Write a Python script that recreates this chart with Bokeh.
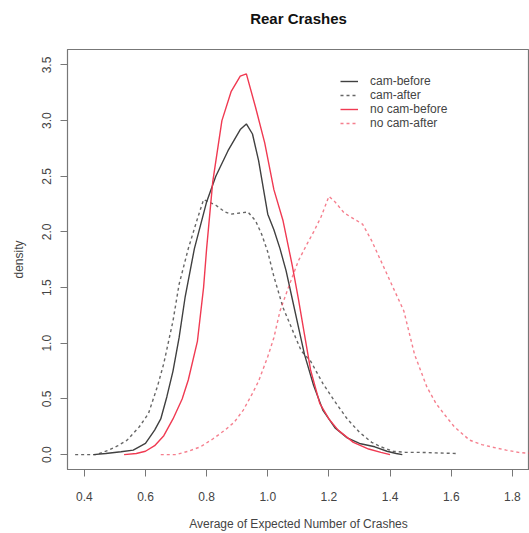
from bokeh.plotting import figure
from bokeh.models import Legend, LegendItem, FixedTicker, PrintfTickFormatter, Range1d, Title
from bokeh.embed import file_html
from bokeh.resources import INLINE

# ---- data ----
cam_before_x = [0.43, 0.47, 0.52, 0.56, 0.60, 0.63, 0.65, 0.67, 0.69, 0.71, 0.73, 0.76, 0.80, 0.83, 0.87, 0.91, 0.93, 0.95, 0.97, 0.99, 1.00, 1.02, 1.04, 1.06, 1.08, 1.10, 1.12, 1.15, 1.18, 1.22, 1.26, 1.30, 1.35, 1.39, 1.42, 1.44]
cam_before_y = [0.0, 0.01, 0.025, 0.04, 0.10, 0.22, 0.32, 0.52, 0.75, 1.05, 1.42, 1.85, 2.27, 2.50, 2.73, 2.92, 2.97, 2.88, 2.64, 2.32, 2.16, 2.02, 1.85, 1.65, 1.40, 1.15, 0.90, 0.62, 0.40, 0.24, 0.15, 0.10, 0.07, 0.03, 0.01, 0.0]

cam_after_x = [0.37, 0.44, 0.48, 0.51, 0.54, 0.58, 0.61, 0.64, 0.66, 0.69, 0.71, 0.74, 0.77, 0.79, 0.83, 0.86, 0.88, 0.91, 0.935, 0.96, 0.98, 1.00, 1.02, 1.05, 1.085, 1.11, 1.14, 1.18, 1.216, 1.26, 1.30, 1.34, 1.37, 1.41, 1.45, 1.50, 1.55, 1.615]
cam_after_y = [0.0, 0.0, 0.04, 0.08, 0.13, 0.25, 0.37, 0.62, 0.82, 1.20, 1.53, 1.85, 2.12, 2.29, 2.24, 2.18, 2.16, 2.17, 2.18, 2.10, 1.98, 1.82, 1.60, 1.32, 1.09, 0.93, 0.84, 0.64, 0.49, 0.32, 0.20, 0.11, 0.07, 0.03, 0.02, 0.02, 0.015, 0.01]

nocam_before_x = [0.53, 0.57, 0.60, 0.63, 0.66, 0.69, 0.72, 0.74, 0.77, 0.79, 0.80, 0.82, 0.85, 0.88, 0.91, 0.93, 0.96, 0.99, 1.02, 1.05, 1.08, 1.10, 1.12, 1.14, 1.17, 1.20, 1.23, 1.28, 1.33, 1.37, 1.40]
nocam_before_y = [0.0, 0.01, 0.03, 0.08, 0.17, 0.32, 0.50, 0.67, 1.02, 1.50, 1.85, 2.45, 3.00, 3.26, 3.40, 3.42, 3.12, 2.80, 2.38, 2.10, 1.70, 1.40, 1.08, 0.76, 0.46, 0.32, 0.22, 0.11, 0.05, 0.02, 0.0]

nocam_after_x = [0.65, 0.70, 0.74, 0.78, 0.82, 0.86, 0.89, 0.92, 0.95, 0.97, 1.00, 1.02, 1.04, 1.07, 1.10, 1.13, 1.15, 1.175, 1.20, 1.22, 1.25, 1.28, 1.31, 1.34, 1.36, 1.38, 1.41, 1.445, 1.48, 1.52, 1.55, 1.575, 1.61, 1.66, 1.70, 1.73, 1.78, 1.82, 1.86]
nocam_after_y = [0.0, 0.0, 0.03, 0.07, 0.14, 0.22, 0.29, 0.40, 0.55, 0.66, 0.88, 1.05, 1.29, 1.52, 1.74, 1.90, 2.00, 2.14, 2.32, 2.27, 2.17, 2.12, 2.07, 1.92, 1.80, 1.68, 1.50, 1.29, 0.90, 0.61, 0.46, 0.37, 0.25, 0.13, 0.09, 0.07, 0.04, 0.02, 0.01]

x_ticks = [0.4, 0.6, 0.8, 1.0, 1.2, 1.4, 1.6, 1.8]
y_ticks = [0.0, 0.5, 1.0, 1.5, 2.0, 2.5, 3.0, 3.5]
labels = ["cam-before", "cam-after", "no cam-before", "no cam-after"]
title_text = "Rear Crashes"

BLACK = "#404040"
RED = "#f03a52"
FONT = "Liberation Sans"
TXT = "#444444"

p = figure(width=529, height=533, output_backend="svg", toolbar_location=None,
           x_range=Range1d(0.345, 1.856), y_range=Range1d(-0.134, 3.639),
           min_border_left=67, min_border_right=0, min_border_top=47, min_border_bottom=63)

# spacer between the frame and the title, then the title itself
p.add_layout(Title(text=" ", text_font_size="1px", standoff=13), "above")
p.add_layout(Title(text=title_text, align="center", text_font=FONT, text_font_size="15px",
                   text_font_style="bold", text_color="#111111", standoff=14), "above")

p.grid.visible = False
p.outline_line_color = "#777777"
p.outline_line_width = 1.2
p.background_fill_color = "white"
p.border_fill_color = "white"

for ax in (p.xaxis[0], p.yaxis[0]):
    ax.axis_line_color = "#777777"
    ax.major_tick_line_color = "#777777"
    ax.major_tick_out = 7
    ax.major_tick_in = 0
    ax.minor_tick_line_color = None
    ax.major_label_text_font = FONT
    ax.major_label_text_font_size = "12px"
    ax.major_label_text_color = TXT
    ax.axis_label_text_font = FONT
    ax.axis_label_text_font_size = "12px"
    ax.axis_label_text_font_style = "normal"
    ax.axis_label_text_color = TXT

p.xaxis.ticker = FixedTicker(ticks=x_ticks)
p.xaxis.formatter = PrintfTickFormatter(format="%.1f")
p.xaxis.axis_label = "Average of Expected Number of Crashes"
p.xaxis.major_label_standoff = 15
p.xaxis.axis_label_standoff = 13

p.yaxis.ticker = FixedTicker(ticks=y_ticks)
p.yaxis.formatter = PrintfTickFormatter(format="%.1f")
p.yaxis.axis_label = "density"
p.yaxis.major_label_orientation = "vertical"
p.yaxis.major_label_standoff = 9
p.yaxis.axis_label_standoff = 14

r1 = p.line(cam_before_x, cam_before_y, line_color=BLACK, line_width=1.4)
r2 = p.line(cam_after_x, cam_after_y, line_color=BLACK, line_width=1.4, line_dash="3 3", line_alpha=0.8)
r3 = p.line(nocam_before_x, nocam_before_y, line_color=RED, line_width=1.4)
r4 = p.line(nocam_after_x, nocam_after_y, line_color=RED, line_width=1.4, line_dash="3 3", line_alpha=0.65)

legend = Legend(items=[LegendItem(label=labels[0], renderers=[r1]),
                       LegendItem(label=labels[1], renderers=[r2]),
                       LegendItem(label=labels[2], renderers=[r3]),
                       LegendItem(label=labels[3], renderers=[r4])],
                location=(273, 339), border_line_color=None, background_fill_alpha=0,
                padding=0, margin=0, spacing=0, glyph_width=18, glyph_height=14,
                label_height=14, label_standoff=12, label_text_line_height=1.1,
                label_text_font=FONT, label_text_font_size="12px", label_text_color=TXT)
p.add_layout(legend, "center")

open("out.html", "w").write(file_html(p, INLINE))
